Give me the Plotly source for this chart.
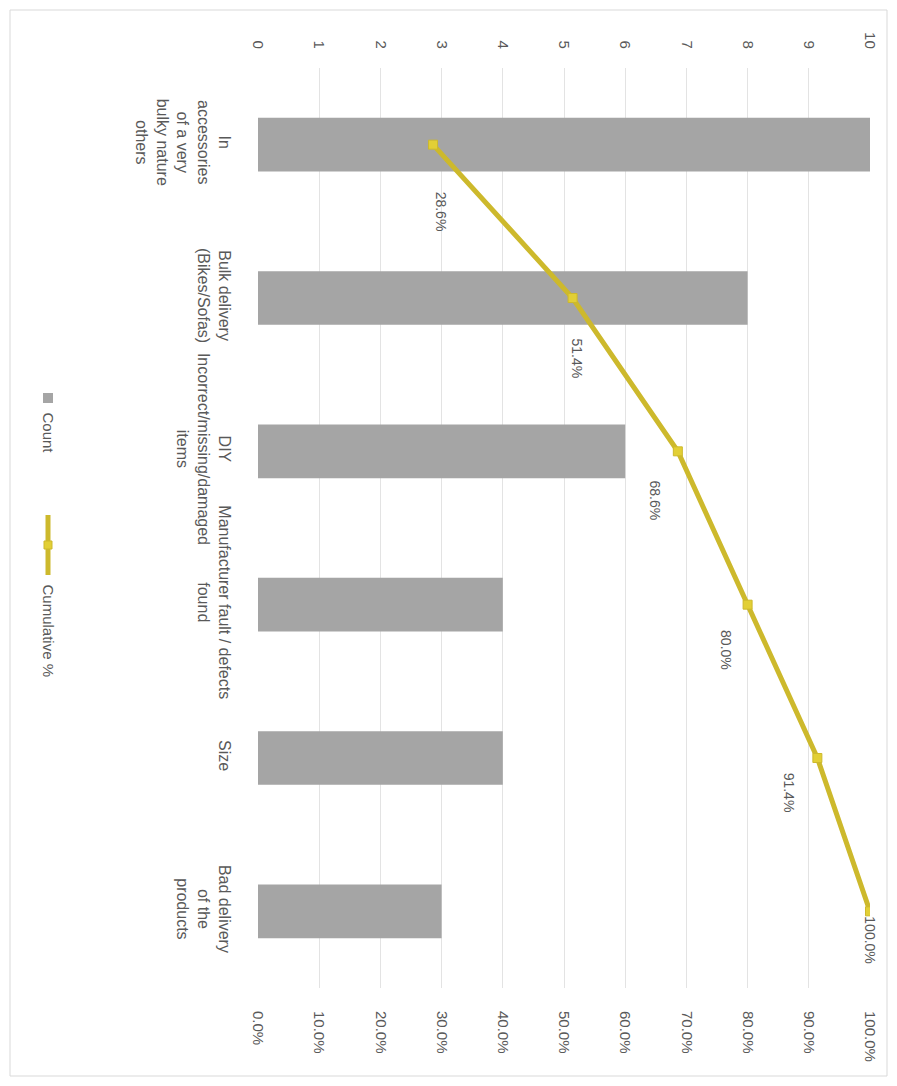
import plotly.graph_objects as go

categories = [
    "In<br>accessories<br>of a very<br>bulky nature<br>others",
    "Bulk delivery<br>(Bikes/Sofas)",
    "DIY<br>Incorrect/missing/damaged<br>items",
    "Manufacturer fault / defects<br>found",
    "Size",
    "Bad delivery<br>of the<br>products",
]
counts = [10, 8, 6, 4, 4, 3]
cum_pct = [0.286, 0.514, 0.686, 0.800, 0.914, 1.000]
cum_labels = ["28.6%", "51.4%", "68.6%", "80.0%", "91.4%", "100.0%"]
count_ticks = list(range(0, 11))
pct_ticks = [i / 10 for i in range(0, 11)]
pct_tick_labels = [f"{i*10:.1f}%" for i in range(0, 11)]

W, H = 897, 1086
L, R, T, B = 258, 27, 68, 98
pw, ph = W - L - R, H - T - B

def px_x(p):
    return (p - L) / pw

def px_y(p):
    return 1 - (p - T) / ph

grey_txt = "#595959"
bar_col = "#a5a5a5"
line_col = "#cdb92c"
FONT = "Liberation Sans"

fig = go.Figure()
fig.add_trace(go.Bar(
    y=categories, x=counts, orientation="h", name="Count",
    marker=dict(color=bar_col, line=dict(width=0)),
    xaxis="x", yaxis="y", showlegend=False,
))
fig.add_trace(go.Scatter(
    y=categories, x=cum_pct, mode="lines+markers", name="Cumulative %",
    line=dict(color=line_col, width=5),
    marker=dict(symbol="square", size=9, color="#e2cf35", line=dict(color=line_col, width=1)),
    xaxis="x2", yaxis="y", showlegend=False,
))

# data labels (rotated like the reference)
shifts = [(8, -67), (4, -60), (-23, -49), (-21, -45), (-28, -35), (0, -28)]
for c, v, t, (dx, dy) in zip(categories, cum_pct, cum_labels, shifts):
    fig.add_annotation(x=v, y=c, xref="x2", yref="y", text=t, showarrow=False,
                       textangle=90, xshift=dx, yshift=dy,
                       font=dict(size=14, color=grey_txt, family=FONT))

# custom rotated legend
fig.add_shape(type="rect", xref="paper", yref="paper",
              x0=px_x(43), x1=px_x(53), y0=px_y(393), y1=px_y(403),
              fillcolor=bar_col, line=dict(width=0))
fig.add_annotation(x=px_x(48), y=px_y(410), xref="paper", yref="paper", text="Count",
                   showarrow=False, textangle=90, xanchor="center", yanchor="top",
                   font=dict(size=15, color=grey_txt, family=FONT))
fig.add_shape(type="line", xref="paper", yref="paper",
              x0=px_x(48), x1=px_x(48), y0=px_y(515), y1=px_y(575),
              line=dict(color=line_col, width=5))
fig.add_shape(type="rect", xref="paper", yref="paper",
              x0=px_x(44), x1=px_x(52), y0=px_y(541), y1=px_y(549),
              fillcolor="#e2cf35", line=dict(color=line_col, width=1))
fig.add_annotation(x=px_x(48), y=px_y(582), xref="paper", yref="paper", text="Cumulative %",
                   showarrow=False, textangle=90, xanchor="center", yanchor="top",
                   font=dict(size=15, color=grey_txt, family=FONT))

# chart border
fig.add_shape(type="rect", xref="paper", yref="paper",
              x0=px_x(10), x1=px_x(887), y0=px_y(10), y1=px_y(1076),
              line=dict(color="#d9d9d9", width=1), fillcolor="rgba(0,0,0,0)", layer="below")

fig.update_layout(
    width=W, height=H,
    margin=dict(l=L, r=R, t=T, b=B, autoexpand=False),
    paper_bgcolor="white", plot_bgcolor="white",
    bargap=0.65,
    font=dict(family=FONT, size=15, color=grey_txt),
    xaxis=dict(side="top", range=[0, 10], tickvals=count_ticks, tickangle=90,
               automargin=False, ticklabelstandoff=16,
               showgrid=True, gridcolor="#e3e3e3", gridwidth=1, zeroline=False,
               showline=False, ticks="", tickfont=dict(size=15, color=grey_txt)),
    xaxis2=dict(side="bottom", overlaying="x", range=[0, 1], tickvals=pct_ticks,
                automargin=False, ticklabelstandoff=22,
                ticktext=pct_tick_labels, tickangle=90, showgrid=False, zeroline=False,
                showline=False, ticks="", tickfont=dict(size=15, color=grey_txt)),
    yaxis=dict(range=[len(categories) - 0.5, -0.5], autorange=False, tickangle=90,
               showgrid=False, showline=False,
               automargin=False, ticks="", ticklabelstandoff=22,
               tickfont=dict(size=16, color=grey_txt)),
)

fig.write_html("out.html")
